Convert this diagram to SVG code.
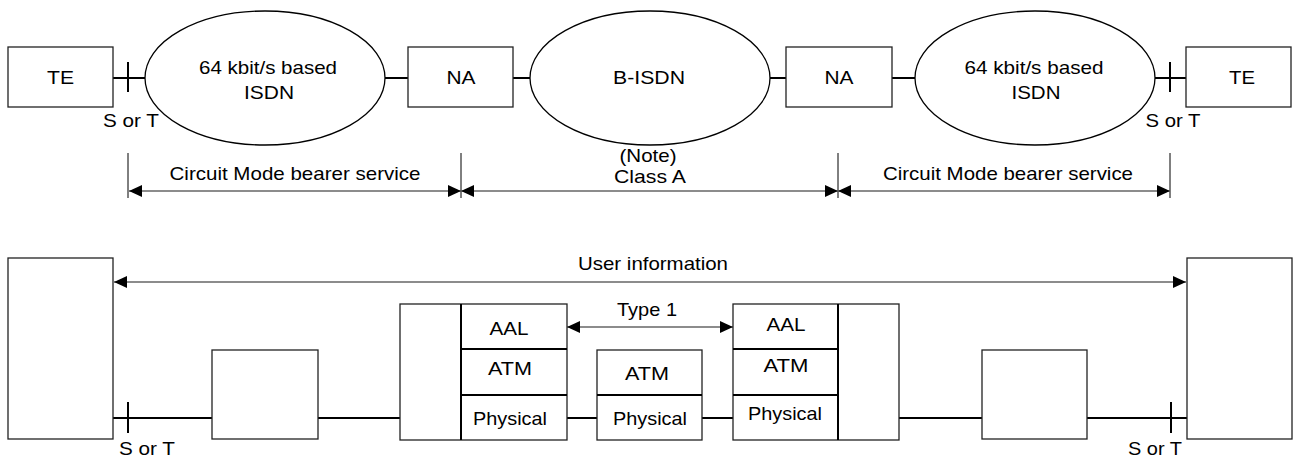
<svg xmlns="http://www.w3.org/2000/svg" width="1294" height="461" viewBox="0 0 1294 461">
<style>
text{font-family:"Liberation Sans",Arial,sans-serif;font-size:19px;fill:#000;text-anchor:middle}
.box{fill:#fff;stroke:#222;stroke-width:1.3}
.ell{fill:#fff;stroke:#000;stroke-width:1.3}
.link{stroke:#000;stroke-width:2;fill:none}
.tick{stroke:#000;stroke-width:2}
.dim{stroke:#666;stroke-width:1.5;fill:none}
.ext{stroke:#000;stroke-width:1}
.div{stroke:#000;stroke-width:2}
</style>
<defs>
<marker id="ah" viewBox="0 0 13 12" refX="13" refY="6" markerWidth="13" markerHeight="12" markerUnits="userSpaceOnUse" orient="auto-start-reverse">
<path d="M0,0 L13,6 L0,12 Z" fill="#000"/>
</marker>
</defs>

<g id="connectors">
<line class="link" x1="113" y1="78" x2="145" y2="78"/>
<line class="tick" x1="128" y1="62" x2="128" y2="92"/>
<line class="link" x1="385" y1="78" x2="408" y2="78"/>
<line class="link" x1="513" y1="78" x2="530" y2="78"/>
<line class="link" x1="770" y1="78" x2="786" y2="78"/>
<line class="link" x1="892" y1="78" x2="915" y2="78"/>
<line class="link" x1="1155" y1="78" x2="1186" y2="78"/>
<line class="tick" x1="1170" y1="62" x2="1170" y2="92"/>

<line class="ext" x1="128" y1="153" x2="128" y2="198"/>
<line class="ext" x1="461" y1="153" x2="461" y2="198"/>
<line class="ext" x1="838" y1="153" x2="838" y2="198"/>
<line class="ext" x1="1170" y1="153" x2="1170" y2="198"/>
<line class="dim" x1="129" y1="191" x2="461" y2="191" marker-start="url(#ah)" marker-end="url(#ah)"/>
<line class="dim" x1="461" y1="191" x2="838" y2="191" marker-start="url(#ah)" marker-end="url(#ah)"/>
<line class="dim" x1="838" y1="191" x2="1170" y2="191" marker-start="url(#ah)" marker-end="url(#ah)"/>

<line class="dim" x1="114" y1="282" x2="1186" y2="282" marker-start="url(#ah)" marker-end="url(#ah)"/>
<line class="dim" x1="567" y1="327" x2="733" y2="327" marker-start="url(#ah)" marker-end="url(#ah)"/>

<line class="link" x1="113" y1="418" x2="212" y2="418"/>
<line class="tick" x1="128" y1="402" x2="128" y2="433"/>
<line class="link" x1="318" y1="418" x2="400" y2="418"/>
<line class="link" x1="567" y1="418" x2="597" y2="418"/>
<line class="link" x1="702" y1="418" x2="733" y2="418"/>
<line class="link" x1="899" y1="418" x2="982" y2="418"/>
<line class="link" x1="1087" y1="418" x2="1187" y2="418"/>
<line class="tick" x1="1171" y1="402" x2="1171" y2="433"/>
</g>

<g id="te-left">
<rect class="box" x="8" y="47" width="105" height="60"/>
<text x="60.5" y="84" textLength="27" lengthAdjust="spacingAndGlyphs">TE</text>
</g>
<g id="isdn-left">
<ellipse class="ell" cx="265" cy="78" rx="120" ry="67"/>
<text x="268" y="74" textLength="138" lengthAdjust="spacingAndGlyphs">64 kbit/s based</text>
<text x="269" y="99" textLength="50" lengthAdjust="spacingAndGlyphs">ISDN</text>
</g>
<g id="na-left">
<rect class="box" x="408" y="47" width="105" height="60"/>
<text x="461" y="84" textLength="29" lengthAdjust="spacingAndGlyphs">NA</text>
</g>
<g id="bisdn">
<ellipse class="ell" cx="650" cy="78" rx="120" ry="67"/>
<text x="649" y="84" textLength="72" lengthAdjust="spacingAndGlyphs">B-ISDN</text>
</g>
<g id="na-right">
<rect class="box" x="786" y="47" width="106" height="60"/>
<text x="839" y="84" textLength="29" lengthAdjust="spacingAndGlyphs">NA</text>
</g>
<g id="isdn-right">
<ellipse class="ell" cx="1035" cy="78" rx="120" ry="67"/>
<text x="1034" y="74" textLength="139" lengthAdjust="spacingAndGlyphs">64 kbit/s based</text>
<text x="1036" y="99" textLength="49" lengthAdjust="spacingAndGlyphs">ISDN</text>
</g>
<g id="te-right">
<rect class="box" x="1186" y="47" width="105" height="60"/>
<text x="1242" y="84" textLength="26" lengthAdjust="spacingAndGlyphs">TE</text>
</g>
<g id="top-labels">
<text x="131" y="127" textLength="56" lengthAdjust="spacingAndGlyphs">S or T</text>
<text x="1173" y="127" textLength="55" lengthAdjust="spacingAndGlyphs">S or T</text>
<text x="295" y="180" textLength="251" lengthAdjust="spacingAndGlyphs">Circuit Mode bearer service</text>
<text x="648" y="162" textLength="57" lengthAdjust="spacingAndGlyphs">(Note)</text>
<text x="650" y="183" textLength="72" lengthAdjust="spacingAndGlyphs">Class A</text>
<text x="1008" y="180" textLength="250" lengthAdjust="spacingAndGlyphs">Circuit Mode bearer service</text>
</g>

<g id="term-left">
<rect class="box" x="8" y="258" width="105" height="181"/>
</g>
<g id="na-box-left">
<rect class="box" x="212" y="350" width="106" height="89"/>
</g>
<g id="stack-left">
<rect class="box" x="400" y="304" width="167" height="136"/>
<line class="div" x1="461" y1="304" x2="461" y2="440"/>
<line class="div" x1="461" y1="349" x2="567" y2="349"/>
<line class="div" x1="461" y1="395" x2="567" y2="395"/>
<text x="509" y="335" textLength="39" lengthAdjust="spacingAndGlyphs">AAL</text>
<text x="510" y="375" textLength="44" lengthAdjust="spacingAndGlyphs">ATM</text>
<text x="510" y="425" textLength="74" lengthAdjust="spacingAndGlyphs">Physical</text>
</g>
<g id="switch">
<rect class="box" x="597" y="350" width="105" height="90"/>
<line class="div" x1="597" y1="395" x2="702" y2="395"/>
<text x="647" y="380" textLength="44" lengthAdjust="spacingAndGlyphs">ATM</text>
<text x="650" y="425" textLength="74" lengthAdjust="spacingAndGlyphs">Physical</text>
</g>
<g id="stack-right">
<rect class="box" x="733" y="304" width="166" height="136"/>
<line class="div" x1="838" y1="304" x2="838" y2="440"/>
<line class="div" x1="733" y1="349" x2="838" y2="349"/>
<line class="div" x1="733" y1="395" x2="838" y2="395"/>
<text x="786" y="331" textLength="39" lengthAdjust="spacingAndGlyphs">AAL</text>
<text x="786" y="372" textLength="45" lengthAdjust="spacingAndGlyphs">ATM</text>
<text x="785" y="420" textLength="74" lengthAdjust="spacingAndGlyphs">Physical</text>
</g>
<g id="na-box-right">
<rect class="box" x="982" y="350" width="105" height="89"/>
</g>
<g id="term-right">
<rect class="box" x="1187" y="258" width="105" height="181"/>
</g>
<g id="bottom-labels">
<text x="653" y="270" textLength="150" lengthAdjust="spacingAndGlyphs">User information</text>
<text x="647" y="316" textLength="60" lengthAdjust="spacingAndGlyphs">Type 1</text>
<text x="147" y="455" textLength="56" lengthAdjust="spacingAndGlyphs">S or T</text>
<text x="1155" y="455" textLength="54" lengthAdjust="spacingAndGlyphs">S or T</text>
</g>
</svg>
